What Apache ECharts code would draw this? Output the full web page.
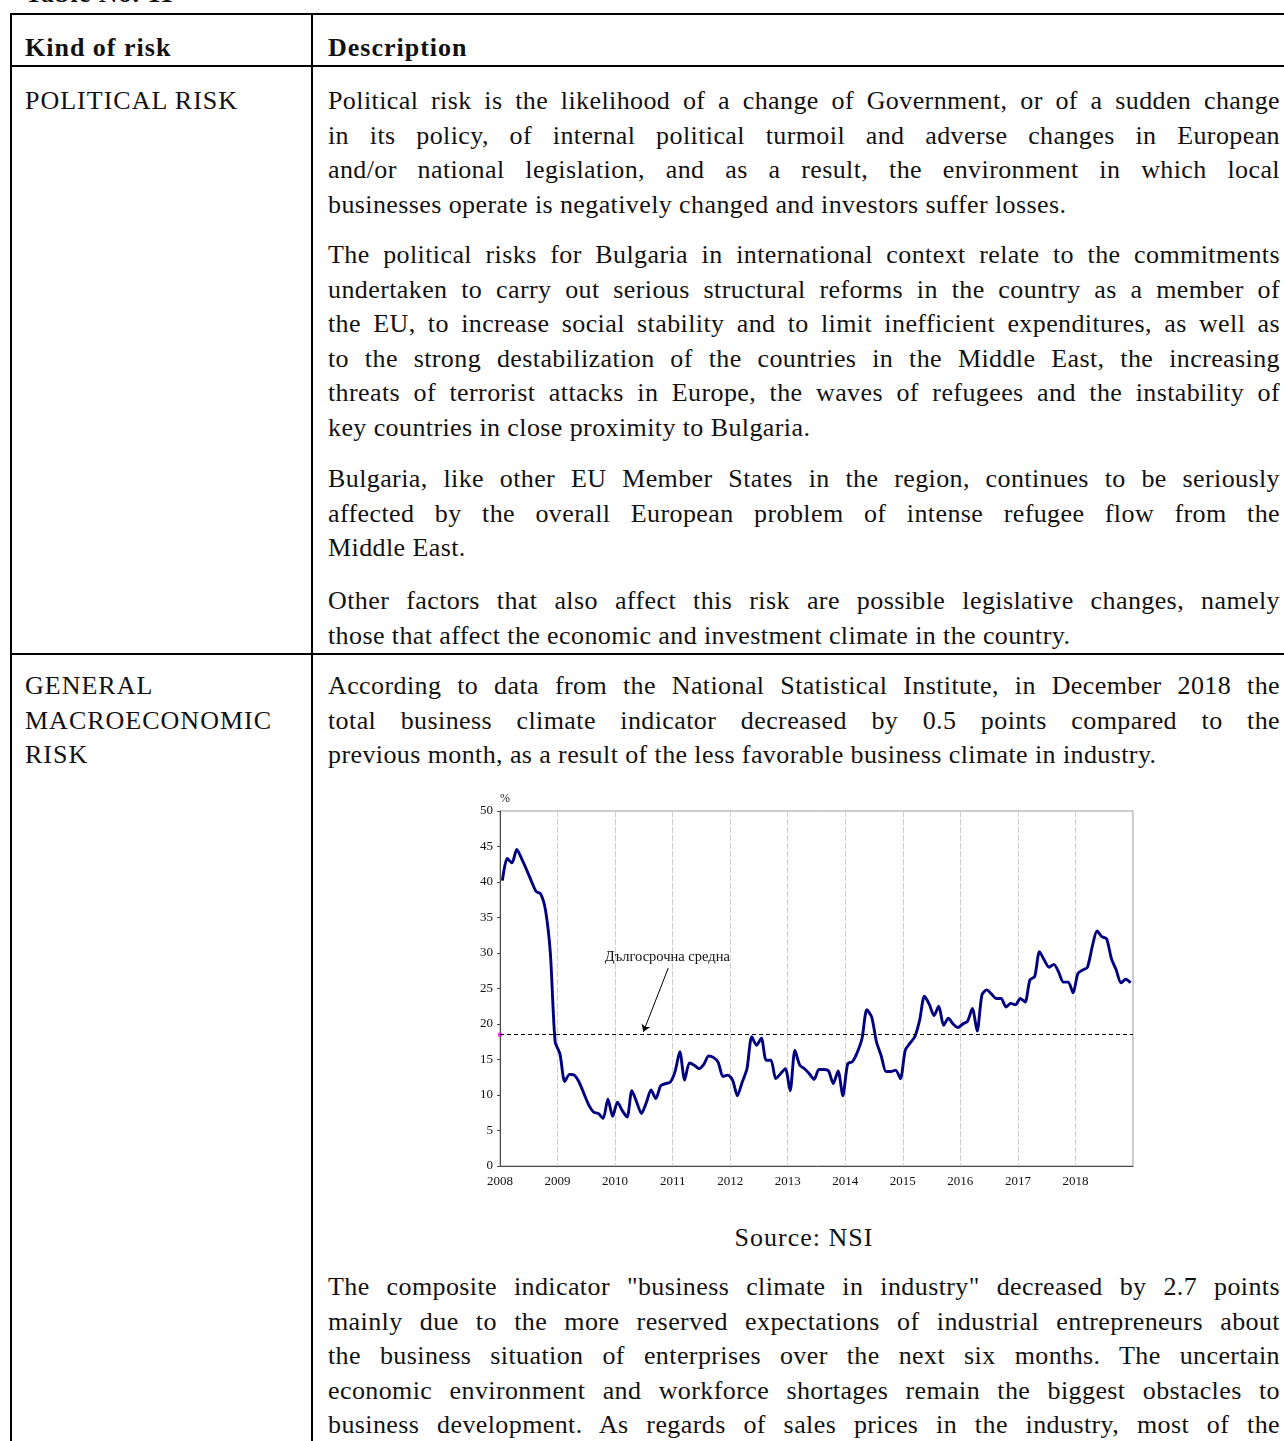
<!DOCTYPE html>
<html>
<head>
<meta charset="utf-8">
<script src="https://cdn.jsdelivr.net/npm/echarts@6/dist/echarts.min.js"></script>
<style>
  html, body { margin: 0; padding: 0; background: #fff; }
  body { width: 1284px; height: 1441px; overflow: hidden; position: relative;
         font-family: "Liberation Serif", serif; font-size: 26px; color: #111; }
  .rule { position: absolute; background: #000; }
  .t { position: absolute; line-height: 34.6px; white-space: nowrap; letter-spacing: 1px; }
  .b { font-weight: bold; }
  .p { position: absolute; left: 328px; width: 952px; line-height: 34.6px; letter-spacing: 0.4px; }
  .p div { text-align: justify; text-align-last: justify; }
  .p div.e { text-align-last: left; }
  #chart { position: absolute; left: 440px; top: 780px; width: 720px; height: 430px; }
</style>
</head>
<body>
<!-- table frame -->
<div class="t b" style="left:25px; top:-23px;">Table No. 11</div>
<div class="rule" style="left:10px; top:13px; width:1300px; height:2px;"></div>
<div class="rule" style="left:10px; top:13px; width:2px; height:1440px;"></div>
<div class="rule" style="left:311px; top:13px; width:2px; height:1440px;"></div>
<div class="rule" style="left:10px; top:65px; width:1300px; height:2px;"></div>
<div class="rule" style="left:10px; top:653px; width:1300px; height:2px;"></div>

<div class="t b" style="left:25px; top:31px;">Kind of risk</div>
<div class="t b" style="left:328px; top:31px;">Description</div>

<div class="t" style="left:25px; top:84px;">POLITICAL RISK</div>
<div class="t" style="left:25px; top:669px;">GENERAL<br>MACROECONOMIC<br>RISK</div>

<div class="p" style="top:84px;">
  <div>Political risk is the likelihood of a change of Government, or of a sudden change</div>
  <div>in its policy, of internal political turmoil and adverse changes in European</div>
  <div>and/or national legislation, and as a result, the environment in which local</div>
  <div class="e">businesses operate is negatively changed and investors suffer losses.</div>
</div>
<div class="p" style="top:238px;">
  <div>The political risks for Bulgaria in international context relate to the commitments</div>
  <div>undertaken to carry out serious structural reforms in the country as a member of</div>
  <div>the EU, to increase social stability and to limit inefficient expenditures, as well as</div>
  <div>to the strong destabilization of the countries in the Middle East, the increasing</div>
  <div>threats of terrorist attacks in Europe, the waves of refugees and the instability of</div>
  <div class="e">key countries in close proximity to Bulgaria.</div>
</div>
<div class="p" style="top:462px;">
  <div>Bulgaria, like other EU Member States in the region, continues to be seriously</div>
  <div>affected by the overall European problem of intense refugee flow from the</div>
  <div class="e">Middle East.</div>
</div>
<div class="p" style="top:584px;">
  <div>Other factors that also affect this risk are possible legislative changes, namely</div>
  <div class="e">those that affect the economic and investment climate in the country.</div>
</div>
<div class="p" style="top:669px;">
  <div>According to data from the National Statistical Institute, in December 2018 the</div>
  <div>total business climate indicator decreased by 0.5 points compared to the</div>
  <div class="e">previous month, as a result of the less favorable business climate in industry.</div>
</div>

<div id="chart"></div>

<div class="t" style="left:328px; width:952px; text-align:center; top:1221px;">Source: NSI</div>

<div class="p" style="top:1270px;">
  <div>The composite indicator "business climate in industry" decreased by 2.7 points</div>
  <div>mainly due to the more reserved expectations of industrial entrepreneurs about</div>
  <div>the business situation of enterprises over the next six months. The uncertain</div>
  <div>economic environment and workforce shortages remain the biggest obstacles to</div>
  <div>business development. As regards of sales prices in the industry, most of the</div>
</div>

<script>
// общ показател за бизнес климата, месечно, от януари 2008
const startYear = 2008;
const bci2008 = [40.2, 43.3, 42.7, 44.6, 43.3, 41.8, 40.2, 38.7, 38.3, 36.0, 30.0, 17.5];
const bci2009 = [15.8, 11.9, 12.9, 12.8, 11.8, 10.2, 8.6, 7.6, 7.4, 6.7, 9.4, 7.0];
const bci2010 = [9.0, 7.8, 6.9, 10.6, 9.0, 7.4, 8.9, 10.7, 9.5, 11.3, 11.6, 11.8];
const bci2011 = [13.3, 16.1, 12.1, 14.5, 14.2, 13.7, 14.3, 15.5, 15.3, 14.6, 12.6, 12.8];
const bci2012 = [12.1, 9.9, 11.8, 13.7, 18.2, 17.0, 18.0, 14.9, 14.9, 12.3, 13.0, 13.7];
const bci2013 = [10.6, 16.3, 14.2, 13.7, 13.0, 12.2, 13.6, 13.6, 13.4, 11.6, 13.4, 9.9];
const bci2014 = [14.4, 14.7, 16.0, 18.0, 22.0, 21.0, 17.5, 15.5, 13.3, 13.3, 13.5, 12.3];
const bci2015 = [16.3, 17.3, 18.2, 20.5, 23.9, 22.8, 21.2, 22.5, 19.8, 20.8, 20.0, 19.5];
const bci2016 = [20.0, 20.4, 22.2, 19.0, 24.1, 24.8, 24.2, 23.6, 23.6, 22.4, 22.9, 22.7];
const bci2017 = [23.6, 23.1, 26.2, 26.7, 30.2, 29.0, 28.0, 28.4, 27.3, 25.9, 25.9, 24.4];
const bci2018 = [27.1, 27.6, 28.0, 30.9, 33.1, 32.3, 32.0, 29.2, 27.6, 25.8, 26.3, 25.8];

const longTermAvg = 18.5;
const avgLabel = "Дългосрочна средна";
// позиции на надписа и стрелката в координати на данните (месец, %)
const avgLabelAt = [34.9, 29.4];
const avgArrowFrom = [35.1, 27.9];
const avgArrowTo = [29.9, 18.9];

const yearTicks = 12;
const yMax = 50;
const yStep = 5;

const values = [].concat(bci2008, bci2009, bci2010, bci2011, bci2012, bci2013,
  bci2014, bci2015, bci2016, bci2017, bci2018);
// точката е в средата на месеца
const lineData = values.map((v, i) => [i + 0.5, v]);
const totalMonths = values.length;

const serif = "Liberation Serif";
const chart = echarts.init(document.getElementById("chart"), null, { renderer: "canvas" });

chart.setOption({
  animation: false,
  grid: {
    left: 60, top: 31, right: 27, bottom: 44,
    show: true, borderColor: "#9a9a9a", borderWidth: 1
  },
  xAxis: {
    type: "value",
    min: 0,
    max: totalMonths,
    interval: yearTicks,
    axisLine: { show: true, lineStyle: { color: "#4a4a4a", width: 1 } },
    axisTick: { show: false },
    axisLabel: {
      margin: 9,
      fontFamily: serif, fontSize: 13, color: "#111",
      showMaxLabel: false,
      formatter: v => String(startYear + v / yearTicks)
    },
    splitLine: { show: true, lineStyle: { color: "#cfcfcf", type: [6, 2], width: 1 } }
  },
  yAxis: {
    type: "value",
    min: 0,
    max: yMax,
    interval: yStep,
    name: "%",
    nameGap: 6,
    nameTextStyle: { fontFamily: serif, fontSize: 12, color: "#111", align: "left" },
    axisLine: { show: true, lineStyle: { color: "#4a4a4a", width: 1 } },
    axisTick: { show: true, length: 3, lineStyle: { color: "#4a4a4a" } },
    axisLabel: { margin: 7, fontFamily: serif, fontSize: 13, color: "#111" },
    splitLine: { show: false }
  },
  series: [
    {
      type: "line",
      data: lineData,
      smooth: 0.25,
      showSymbol: false,
      lineStyle: { color: "#000080", width: 2.9 },
      markLine: {
        silent: true,
        symbol: "none",
        label: { show: false },
        lineStyle: { color: "#000", type: [4, 3], width: 1 },
        data: [{ yAxis: longTermAvg }]
      }
    },
    {
      type: "scatter",
      data: [[0, longTermAvg]],
      symbol: "rect",
      symbolSize: 4,
      itemStyle: { color: "#ff00ff" },
      markLine: {
        silent: true,
        symbol: ["none", "arrow"],
        symbolSize: 7,
        label: { show: false },
        lineStyle: { color: "#000", type: "solid", width: 1 },
        data: [[{ coord: avgArrowFrom }, { coord: avgArrowTo }]]
      },
      markPoint: {
        silent: true,
        symbol: "circle",
        symbolSize: 1,
        itemStyle: { color: "rgba(0,0,0,0)" },
        label: {
          show: true, position: "inside", formatter: avgLabel,
          fontFamily: serif, fontSize: 14.5, color: "#111"
        },
        data: [{ coord: avgLabelAt }]
      }
    }
  ]
});
</script>
</body>
</html>
